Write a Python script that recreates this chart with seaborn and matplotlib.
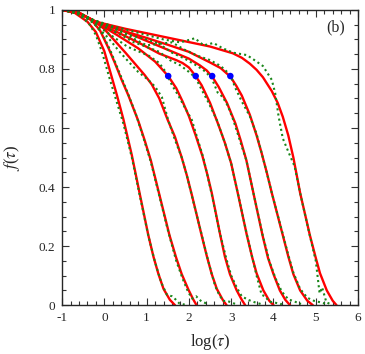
import matplotlib
matplotlib.use('Agg')
import matplotlib.pyplot as plt
import seaborn as sns
from matplotlib.ticker import MultipleLocator, FuncFormatter

# fitted curves (red)
red1_x = [-1.0, -0.7, -0.4, -0.2, 0.0, 0.17, 0.3, 0.45, 0.65, 0.84, 1.04, 1.16, 1.28, 1.4, 1.55, 1.67]
red1_f = [1.0, 0.99, 0.96, 0.925, 0.86, 0.775, 0.71, 0.63, 0.508, 0.375, 0.237, 0.165, 0.105, 0.055, 0.018, 0.0]

red2_x = [-1.0, -0.6, -0.3, -0.1, 0.1, 0.25, 0.41, 0.57, 0.8, 0.95, 1.1, 1.3, 1.54, 1.7, 1.83, 1.99, 2.1, 2.18]
red2_f = [1.0, 0.99, 0.965, 0.93, 0.87, 0.82, 0.763, 0.71, 0.625, 0.56, 0.49, 0.375, 0.237, 0.16, 0.105, 0.052, 0.02, 0.0]

red3_x = [-1.0, -0.6, -0.2, 0.0, 0.25, 0.5, 0.8, 0.95, 1.12, 1.3, 1.5, 1.67, 1.83, 1.95, 2.07, 2.3, 2.42, 2.54, 2.66, 2.8, 2.89]
red3_f = [1.0, 0.99, 0.958, 0.935, 0.895, 0.855, 0.805, 0.78, 0.748, 0.70, 0.627, 0.57, 0.50, 0.44, 0.373, 0.237, 0.168, 0.105, 0.055, 0.018, 0.0]

red4_x = [-1.0, -0.6, -0.2, 0.3, 0.8, 1.2, 1.51, 1.7, 1.85, 2.0, 2.16, 2.32, 2.44, 2.54, 2.73, 2.85, 2.97, 3.13, 3.25, 3.33]
red4_f = [1.0, 0.99, 0.958, 0.915, 0.87, 0.825, 0.776, 0.735, 0.69, 0.64, 0.575, 0.505, 0.44, 0.38, 0.245, 0.165, 0.105, 0.05, 0.018, 0.0]

red5_x = [-1.0, -0.6, -0.2, 0.3, 0.8, 1.3, 1.7, 1.85, 2.0, 2.16, 2.3, 2.5, 2.7, 2.85, 3.0, 3.17, 3.37, 3.5, 3.6, 3.76, 3.9, 4.0]
red5_f = [1.0, 0.99, 0.958, 0.925, 0.89, 0.852, 0.83, 0.82, 0.805, 0.776, 0.745, 0.685, 0.61, 0.55, 0.48, 0.37, 0.237, 0.16, 0.108, 0.05, 0.015, 0.0]

red6_x = [-1.0, -0.6, -0.2, 0.5, 1.0, 1.5, 2.0, 2.26, 2.42, 2.56, 2.7, 2.9, 3.1, 3.22, 3.36, 3.54, 3.74, 3.87, 4.0, 4.15, 4.28, 4.39]
red6_f = [1.0, 0.99, 0.96, 0.925, 0.895, 0.865, 0.835, 0.812, 0.795, 0.772, 0.74, 0.685, 0.615, 0.56, 0.49, 0.37, 0.237, 0.16, 0.105, 0.05, 0.018, 0.0]

red7_x = [-1.0, -0.6, -0.2, 0.5, 1.0, 1.5, 2.0, 2.5, 2.75, 2.98, 3.12, 3.25, 3.44, 3.6, 3.72, 3.84, 3.96, 4.22, 4.35, 4.47, 4.63, 4.8, 4.93]
red7_f = [1.0, 0.99, 0.96, 0.927, 0.905, 0.882, 0.858, 0.822, 0.803, 0.774, 0.743, 0.71, 0.645, 0.575, 0.515, 0.45, 0.38, 0.237, 0.165, 0.105, 0.05, 0.015, 0.0]

red8_x = [-1.0, -0.6, -0.2, 0.5, 1.0, 1.5, 2.0, 2.5, 3.04, 3.25, 3.44, 3.6, 3.75, 3.96, 4.1, 4.22, 4.35, 4.47, 4.63, 4.86, 5.0, 5.1, 5.26, 5.4, 5.49]
red8_f = [1.0, 0.99, 0.96, 0.936, 0.921, 0.906, 0.891, 0.876, 0.853, 0.838, 0.818, 0.797, 0.772, 0.725, 0.685, 0.638, 0.575, 0.50, 0.38, 0.237, 0.16, 0.108, 0.05, 0.015, 0.0]

# simulation data (green dotted)
grn1_x = [-1.0, -0.8, -0.6, -0.45, -0.34, -0.2, -0.05, 0.13, 0.3, 0.45, 0.65, 0.84, 1.04, 1.2, 1.35, 1.48, 1.6, 1.68, 1.78, 1.9]
grn1_f = [1.0, 0.995, 0.985, 0.965, 0.949, 0.915, 0.855, 0.765, 0.685, 0.615, 0.5, 0.37, 0.235, 0.145, 0.075, 0.035, 0.03, 0.02, 0.005, 0.002]

grn2_x = [-1.0, -0.7, -0.45, -0.25, -0.05, 0.15, 0.35, 0.55, 0.75, 0.95, 1.1, 1.3, 1.5, 1.7, 1.85, 1.98, 2.08, 2.17, 2.3, 2.45]
grn2_f = [1.0, 0.99, 0.975, 0.955, 0.92, 0.86, 0.79, 0.72, 0.645, 0.555, 0.485, 0.37, 0.255, 0.15, 0.09, 0.045, 0.022, 0.03, 0.012, 0.004]

grn3_x = [-1.0, -0.7, -0.45, -0.25, 0.1, 0.35, 0.57, 0.8, 1.04, 1.2, 1.36, 1.51, 1.67, 1.83, 1.95, 2.07, 2.3, 2.42, 2.54, 2.62, 2.7, 2.8, 2.95, 3.1]
grn3_f = [1.0, 0.99, 0.975, 0.955, 0.904, 0.86, 0.825, 0.79, 0.763, 0.74, 0.705, 0.627, 0.56, 0.5, 0.44, 0.37, 0.24, 0.17, 0.105, 0.065, 0.04, 0.015, 0.012, 0.004]

grn4_x = [-1.0, -0.6, -0.3, 0.0, 0.3, 0.55, 0.8, 1.05, 1.3, 1.45, 1.6, 1.75, 1.9, 2.07, 2.2, 2.34, 2.54, 2.73, 2.88, 3.0, 3.13, 3.25, 3.4, 3.55, 3.7]
grn4_f = [1.0, 0.99, 0.965, 0.93, 0.9, 0.875, 0.86, 0.845, 0.82, 0.79, 0.745, 0.71, 0.67, 0.627, 0.565, 0.5, 0.375, 0.245, 0.16, 0.1, 0.06, 0.03, 0.018, 0.01, 0.004]

grn5_x = [-1.0, -0.6, -0.3, 0.1, 0.4, 0.7, 1.0, 1.3, 1.55, 1.8, 2.0, 2.16, 2.3, 2.45, 2.66, 2.85, 3.0, 3.17, 3.37, 3.5, 3.6, 3.72, 3.8, 3.9, 4.05, 4.2]
grn5_f = [1.0, 0.99, 0.968, 0.935, 0.915, 0.89, 0.875, 0.858, 0.83, 0.812, 0.79, 0.77, 0.73, 0.69, 0.627, 0.55, 0.48, 0.37, 0.24, 0.16, 0.1, 0.035, 0.03, 0.012, 0.008, 0.003]

grn6_x = [-1.0, -0.6, -0.3, 0.2, 0.6, 1.0, 1.3, 1.6, 1.9, 2.2, 2.4, 2.55, 2.68, 2.8, 2.92, 3.05, 3.2, 3.36, 3.54, 3.74, 3.9, 4.05, 4.2, 4.35, 4.5, 4.65]
grn6_f = [1.0, 0.99, 0.968, 0.94, 0.91, 0.88, 0.885, 0.855, 0.835, 0.81, 0.79, 0.765, 0.72, 0.705, 0.675, 0.627, 0.56, 0.49, 0.37, 0.24, 0.15, 0.09, 0.045, 0.02, 0.012, 0.004]

grn7_x = [-1.0, -0.6, -0.3, 0.2, 0.6, 1.0, 1.3, 1.6, 1.9, 2.2, 2.5, 2.75, 2.98, 3.1, 3.25, 3.44, 3.6, 3.72, 3.84, 3.96, 4.22, 4.35, 4.47, 4.63, 4.8, 4.95, 5.1, 5.25]
grn7_f = [1.0, 0.99, 0.968, 0.94, 0.915, 0.9, 0.885, 0.89, 0.865, 0.845, 0.83, 0.81, 0.78, 0.735, 0.69, 0.64, 0.58, 0.515, 0.45, 0.38, 0.24, 0.17, 0.11, 0.055, 0.025, 0.015, 0.01, 0.004]

grn8_x = [-1.0, -0.6, -0.3, 0.2, 0.6, 1.0, 1.4, 1.8, 2.14, 2.35, 2.58, 2.8, 3.05, 3.37, 3.55, 3.75, 3.96, 4.04, 4.12, 4.22, 4.35, 4.5, 4.63, 4.86, 5.0, 5.09, 5.15, 5.25, 5.35]
grn8_f = [1.0, 0.99, 0.968, 0.945, 0.93, 0.915, 0.9, 0.89, 0.904, 0.88, 0.888, 0.87, 0.855, 0.847, 0.83, 0.81, 0.763, 0.718, 0.64, 0.565, 0.52, 0.47, 0.38, 0.235, 0.15, 0.04, 0.06, 0.01, 0.003]

# points marked in blue
blue_x = [1.51, 2.16, 2.55, 2.98]
blue_f = [0.776, 0.776, 0.776, 0.776]

red_curves = [(red1_x, red1_f), (red2_x, red2_f), (red3_x, red3_f), (red4_x, red4_f),
              (red5_x, red5_f), (red6_x, red6_f), (red7_x, red7_f), (red8_x, red8_f)]
green_curves = [(grn1_x, grn1_f), (grn2_x, grn2_f), (grn3_x, grn3_f), (grn4_x, grn4_f),
                (grn5_x, grn5_f), (grn6_x, grn6_f), (grn7_x, grn7_f), (grn8_x, grn8_f)]

sns.set_theme(style="ticks")
plt.rcParams['font.family'] = ['Liberation Serif', 'DejaVu Serif']
plt.rcParams['mathtext.fontset'] = 'stix'
plt.rcParams['axes.unicode_minus'] = False

fig = plt.figure(figsize=(3.65, 3.54), dpi=100)
ax = fig.add_axes([0.170, 0.138, 0.811, 0.834])

for x, f in red_curves:
    sns.lineplot(x=x, y=f, ax=ax, color='#ff0000', linewidth=1.7, sort=False, estimator=None)
for x, f in green_curves:
    sns.lineplot(x=x, y=f, ax=ax, color='#1a861a', linewidth=1.5, linestyle=(0, (1, 1.5)),
                 sort=False, estimator=None)
sns.scatterplot(x=blue_x, y=blue_f, ax=ax, color='#0000ff', s=22, edgecolor='none', zorder=5)

ax.set_xlim(-1, 6)
ax.set_ylim(0, 1)
ax.xaxis.set_major_locator(MultipleLocator(1))
ax.xaxis.set_minor_locator(MultipleLocator(0.2))
ax.yaxis.set_major_locator(MultipleLocator(0.2))
ax.yaxis.set_minor_locator(MultipleLocator(0.05))
ax.xaxis.set_major_formatter(FuncFormatter(lambda v, p: f'{v:g}'))
ax.yaxis.set_major_formatter(FuncFormatter(lambda v, p: f'{v:g}'))
ax.tick_params(which='both', direction='in', top=True, right=True, labelsize=9.5, width=0.8, color='#333333')
ax.tick_params(which='major', length=5, pad=5)
ax.tick_params(which='minor', length=3)
for s in ax.spines.values():
    s.set_linewidth(1.0)

ax.set_xlabel(r'log($\tau$)', fontsize=12, labelpad=6)
ax.set_ylabel(r'$f$($\tau$)', fontsize=12, labelpad=12)
ax.text(5.47, 0.94, '(b)', fontsize=11.5, ha='center', va='center')

fig.savefig('out.png', dpi=100)
